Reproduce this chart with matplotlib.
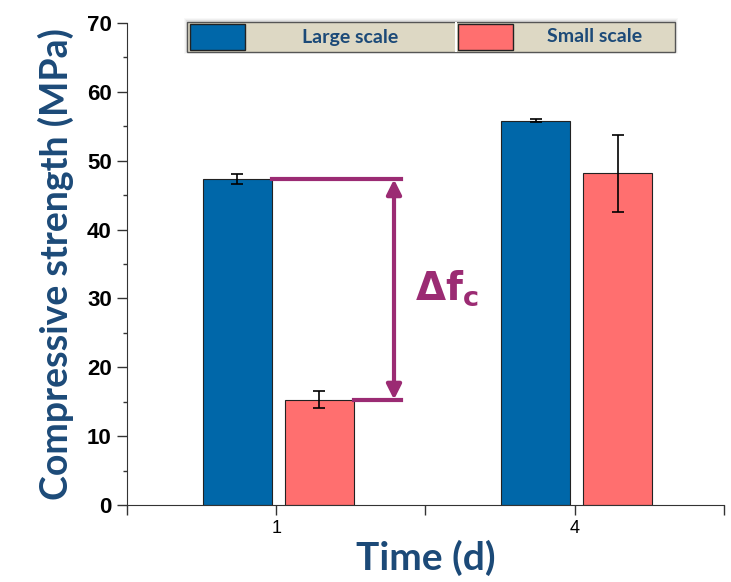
import matplotlib.pyplot as plt
import numpy as np
from matplotlib.patches import Rectangle

# Data
days = ['1', '4']
large_mean = [47.3, 55.8]
large_err = [0.7, 0.2]
small_mean = [15.3, 48.2]
small_err = [1.2, 5.6]

blue = '#0067a9'
pink = '#ff6f6f'
navy = '#1c4a78'
purple = '#9b2b73'

W, H = 731, 582
fig = plt.figure(figsize=(W / 100, H / 100), dpi=100)
ax = fig.add_axes([0.1737, 0.1323, 0.8163, 0.8282])

x = np.arange(len(days))
w = 0.23
ax.bar(x - 0.13, large_mean, w, yerr=large_err, color=blue, edgecolor='#222222',
       linewidth=0.8, capsize=4, error_kw=dict(elinewidth=1.2, capthick=1.2))
ax.bar(x + 0.145, small_mean, w, yerr=small_err, color=pink, edgecolor='#222222',
       linewidth=0.8, capsize=4, error_kw=dict(elinewidth=1.2, capthick=1.2))

# delta f_c annotation
xa = 0.395
xend = 0.418
ax.plot([x[0] - 0.13 + w / 2, xend], [large_mean[0], large_mean[0]], color=purple, lw=3)
ax.plot([x[0] + 0.145 + w / 2, xend], [small_mean[0], small_mean[0]], color=purple, lw=3)
ax.annotate('', xy=(xa, small_mean[0]), xytext=(xa, large_mean[0]),
            arrowprops=dict(arrowstyle='<|-|>', color=purple, lw=3,
                            mutation_scale=22, shrinkA=0, shrinkB=0))
ax.text(0.465, 31.5, r'$\mathbf{\Delta f_c}$', color=purple, fontsize=28,
        ha='left', va='center')

ax.set_xlim(-0.5, 1.5)
ax.set_ylim(0, 70)
ax.set_xticks(x)
ax.set_xticklabels(days, fontsize=13, family='Liberation Sans')
ax.set_xticks([-0.5, 0.5, 1.5], minor=True)
ax.set_yticks(np.arange(0, 71, 10))
ax.set_yticks(np.arange(5, 70, 10), minor=True)
ax.set_yticklabels([str(v) for v in range(0, 71, 10)], fontsize=16,
                   fontweight='bold', family='Liberation Sans')
ax.tick_params(axis='both', which='major', length=7, width=1, color='#333333', pad=4)
ax.tick_params(axis='x', which='minor', length=7, width=1, color='#333333')
ax.tick_params(axis='y', which='minor', length=3, width=1, color='#333333')
for s in ['top', 'right']:
    ax.spines[s].set_visible(False)
for s in ['left', 'bottom']:
    ax.spines[s].set_color('#333333')

ax.set_ylabel('Compressive strength (MPa)', fontsize=27, fontweight='bold',
              color=navy, family='Lato', labelpad=9)
ax.set_xlabel('Time (d)', fontsize=28, fontweight='bold', color=navy,
              family='Lato', labelpad=2)


# legend bar drawn in figure pixels
def fbox(x0, y0, x1, y1, **kw):
    r = Rectangle((x0 / W, 1 - y1 / H), (x1 - x0) / W, (y1 - y0) / H,
                  transform=fig.transFigure, **kw)
    fig.add_artist(r)


for k, a in enumerate([0.12, 0.08, 0.05]):
    fbox(187 - k - 1, 22 - k - 2, 675 + k + 1, 52 + k, facecolor='#808080',
         edgecolor='none', alpha=a)
fbox(187, 22, 675, 52, facecolor='#ddd8c4', edgecolor='#555555', lw=1)
fbox(455, 22, 457, 52, facecolor='white', edgecolor='none')
fbox(190, 24, 245, 50, facecolor=blue, edgecolor='#222222', lw=1)
fbox(458, 24, 513, 50, facecolor=pink, edgecolor='#222222', lw=1)
for lbl, cx in [('Large scale', 350), ('Small scale', 595)]:
    fig.text(cx / W, 1 - 37 / H, lbl, ha='center', va='center', color=navy,
             family='Lato', fontweight='bold', fontsize=14)

fig.savefig('out.png', dpi=100)
